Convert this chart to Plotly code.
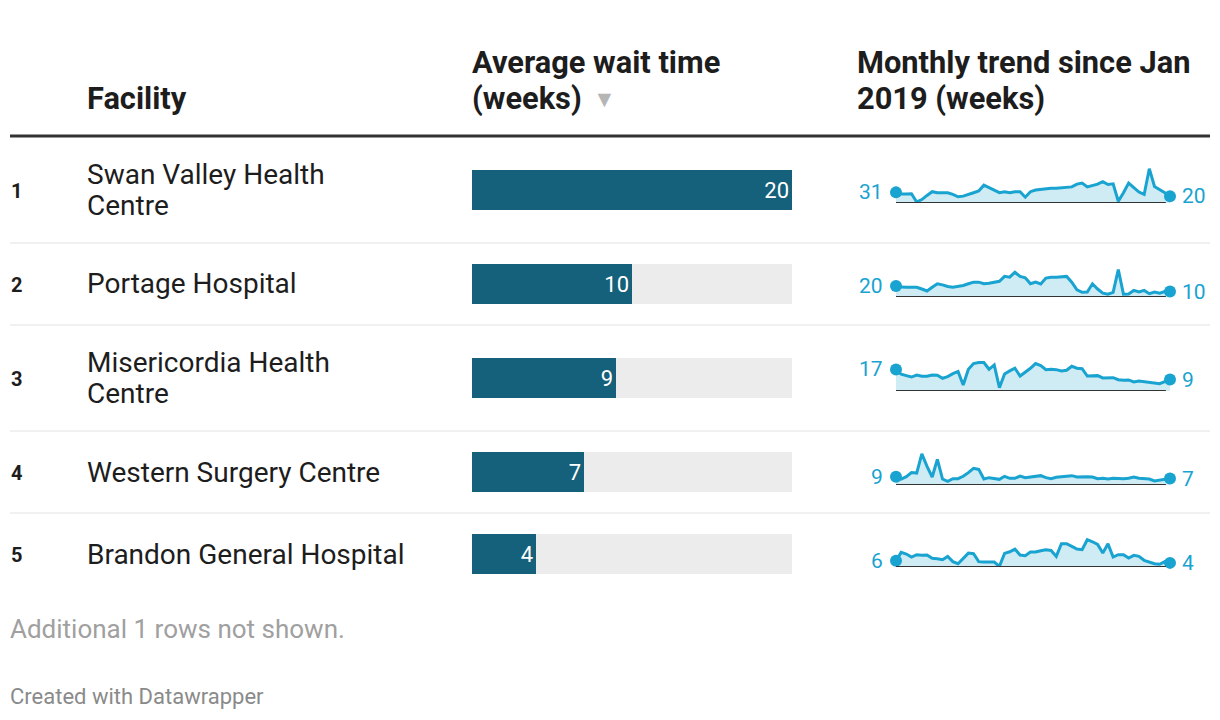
import plotly.graph_objects as go

PAGE_W, PAGE_H = 1220, 720
OFF = 8  # browser default body margin
W, H = PAGE_W - OFF, PAGE_H - OFF

# ---------------- data ----------------
ranks = [1, 2, 3, 4, 5]
facilities = ["Swan Valley Health Centre", "Portage Hospital", "Misericordia Health Centre",
              "Western Surgery Centre", "Brandon General Hospital"]
facility_labels = ["Swan Valley Health<br>Centre", "Portage Hospital", "Misericordia Health<br>Centre",
                   "Western Surgery Centre", "Brandon General Hospital"]
avg_wait = [20, 10, 9, 7, 4]

trend_swan = [31, 26, 26, 27, 3, 10, 22, 33, 30, 30, 30, 25, 18, 20, 24, 30, 35, 52, 45, 37,
              30, 33, 30, 33, 33, 17, 33, 38, 40, 40, 43, 43, 44, 45, 47, 55, 58, 47, 50, 55,
              62, 54, 56, 5, 30, 58, 45, 32, 25, 100, 48, 40, 30, 20]
trend_portage = [20, 18, 17.6, 17.6, 17.6, 14.5, 11, 17.6, 24, 22, 19, 17.6, 19, 21, 24, 27, 27, 24,
                 25, 27, 28.5, 37.5, 36, 45, 37.5, 35, 24, 27, 23.6, 34.5, 36, 36, 37, 37.5, 27, 13,
                 8.5, 9, 24, 14.5, 7, 5, 8.5, 50, 5, 5.5, 12, 9, 12, 6, 9, 7, 10, 10]
trend_miser = [17, 13.2, 12.1, 11, 12.6, 11.6, 11.6, 12.6, 12.4, 10, 11.3, 13.7, 15.3, 4.7, 17.1,
               21.6, 22.4, 22.4, 17.1, 20.5, 2.6, 13.4, 15.8, 17.9, 11.8, 14.5, 17.9, 21.6, 20,
               16.8, 17.1, 16.8, 15.8, 16.3, 19.5, 17.9, 17.6, 11.8, 11.8, 12.1, 10.3, 10.3, 10.5,
               8.9, 8.4, 8.7, 7.1, 7.9, 7.4, 7.1, 6.6, 5.8, 7.4, 9]
trend_western = [9, 6.5, 9.1, 13.5, 13, 34, 20.4, 8.7, 28, 6.5, 4, 6.9, 6.9, 9.5, 13.5, 18.2, 17,
                 6.5, 8, 6.9, 6.2, 9.5, 7.3, 7.3, 9.8, 8, 8.7, 9.5, 10.2, 8, 6.9, 8.4, 9.1, 9.5,
                 10.2, 8.7, 9.1, 9.1, 8.7, 6.9, 7.3, 6.5, 7.3, 6.9, 6.9, 7.3, 8.7, 7.3, 7.3, 6.5,
                 4.4, 5.1, 5.5, 7]
trend_brandon = [6, 14.2, 12.6, 9.7, 11.9, 11.3, 11.6, 8.4, 8.1, 7.1, 10.3, 5.2, 3.2, 8.7, 13.5,
                 12.9, 5.2, 4.8, 4.8, 4.8, 0.6, 13.2, 14.8, 17.4, 11.6, 11, 14.5, 14.5, 15.8, 16.8,
                 16.1, 10.3, 22.6, 22.6, 20, 17.4, 16.8, 26.5, 24.5, 21.9, 13.5, 22.6, 9.7, 11.9,
                 11.9, 8.7, 11.3, 10.3, 6.5, 4.5, 3.2, 2.6, 5.2, 4]
trends = [trend_swan, trend_portage, trend_miser, trend_western, trend_brandon]
start_labels = ["31", "20", "17", "9", "6"]
end_labels = ["20", "10", "9", "7", "4"]
bar_max = 20

# ---------------- layout positions / styles (page px) ----------------
row_center = [190, 284, 378, 472, 554]
spark_base = [203, 297, 391, 485, 567]
spark_px_per_week = [0.343, 0.55, 1.27, 0.917, 1.03]
SPARK_H = 44
LINE_GAP = 31
BAR_COLOR = "#15607a"
BG_BAR = "#ececec"
SPARK_LINE = "#19a3d0"
SPARK_FILL = "#cfebf4"
TEXT = "#1d1d1d"
FONT = "Roboto"
HEAD_SIZE = 30.8


def X(px):
    return (px - OFF) / W


def Y(px):
    return 1 - (px - OFF) / H


fig = go.Figure()

bar_y = [c - OFF for c in row_center]  # y axis in figure px (top = 0)
fig.add_trace(go.Bar(x=[bar_max] * len(avg_wait), y=bar_y, orientation="h", width=40,
                     marker=dict(color=BG_BAR, line=dict(width=0)), hoverinfo="skip",
                     xaxis="x", yaxis="y", showlegend=False))
fig.add_trace(go.Bar(x=avg_wait, y=bar_y, orientation="h", width=40,
                     marker=dict(color=BAR_COLOR, line=dict(width=0)),
                     text=[str(v) for v in avg_wait], textposition="inside",
                     insidetextanchor="end", textangle=0,
                     textfont=dict(color="white", size=22, family=FONT),
                     xaxis="x", yaxis="y", showlegend=False))

layout_axes = {}
layout_axes["xaxis"] = dict(domain=[X(472), X(792)], range=[0, bar_max], visible=False, fixedrange=True)
layout_axes["yaxis"] = dict(domain=[0, 1], range=[H, 0], visible=False, fixedrange=True, anchor="x")

shapes = []
annotations = []


def text(x, y, s, size, color=TEXT, bold=False, xanchor="left", ref=("paper", "paper"), conv=True):
    annotations.append(dict(x=X(x) if conv else x, y=Y(y) if conv else y, xref=ref[0], yref=ref[1],
                            text=f"<b>{s}</b>" if bold else s,
                            showarrow=False, xanchor=xanchor, yanchor="middle", align="left",
                            font=dict(size=size, color=color, family=FONT)))


for i, vals in enumerate(trends):
    k = i + 2
    xa, ya = f"x{k}", f"y{k}"
    n = len(vals)
    idx = list(range(n))
    ymax = SPARK_H / spark_px_per_week[i]
    layout_axes[f"xaxis{k}"] = dict(domain=[X(896), X(1170)], range=[0, n - 1], visible=False,
                                    fixedrange=True, anchor=ya)
    layout_axes[f"yaxis{k}"] = dict(domain=[Y(spark_base[i]), Y(spark_base[i] - SPARK_H)],
                                    range=[0, ymax], visible=False, fixedrange=True, anchor=xa)
    fig.add_trace(go.Scatter(x=idx, y=vals, mode="lines", fill="tozeroy", fillcolor=SPARK_FILL,
                             line=dict(color=SPARK_LINE, width=3), xaxis=xa, yaxis=ya,
                             showlegend=False, hoverinfo="skip", cliponaxis=False))
    shapes.append(dict(type="line", xref=xa, yref=ya, x0=0, x1=(n - 1) * 0.985, y0=0, y1=0,
                       line=dict(color="#333333", width=2)))
    fig.add_trace(go.Scatter(x=[0, n - 1], y=[vals[0], vals[-1]], mode="markers",
                             marker=dict(color=SPARK_LINE, size=12),
                             xaxis=xa, yaxis=ya, showlegend=False, hoverinfo="skip",
                             cliponaxis=False))
    annotations.append(dict(x=0, y=vals[0], xref=xa, yref=ya, text=start_labels[i], showarrow=False,
                            xanchor="right", yanchor="middle", xshift=-11,
                            font=dict(size=21, color=SPARK_LINE, family=FONT)))
    annotations.append(dict(x=n - 1, y=vals[-1], xref=xa, yref=ya, text=end_labels[i], showarrow=False,
                            xanchor="left", yanchor="middle", xshift=10,
                            font=dict(size=21, color=SPARK_LINE, family=FONT)))

shapes.append(dict(type="line", xref="paper", yref="paper", x0=X(10), x1=X(1210), y0=Y(136), y1=Y(136),
                   line=dict(color="#333333", width=3)))
for sep in [243, 325, 431, 513]:
    shapes.append(dict(type="line", xref="paper", yref="paper", x0=X(10), x1=X(1210), y0=Y(sep), y1=Y(sep),
                       line=dict(color="#e2e2e2", width=1)))

# headers
text(85, 98, "Facility", HEAD_SIZE, bold=True)
text(470, 62, "Average wait time", HEAD_SIZE, bold=True)
text(470, 98, "(weeks)", HEAD_SIZE, bold=True)
text(591, 100, "▼", 23, color="#b5b5b5")
text(855, 62, "Monthly trend since Jan", HEAD_SIZE, bold=True)
text(855, 98, "2019 (weeks)", HEAD_SIZE, bold=True)

for i in range(len(ranks)):
    text(9, row_center[i] + 1, str(ranks[i]), 20, bold=True)
    lines = facility_labels[i].split("<br>")
    top = row_center[i] - LINE_GAP * (len(lines) - 1) / 2
    for j, ln in enumerate(lines):
        text(85, top + j * LINE_GAP, ln, 28)

text(8, 629, "Additional 1 rows not shown.", 26, color="#a0a0a0")
text(8, 696, "Created with Datawrapper", 22, color="#8a8a8a")

fig.update_layout(width=W, height=H, margin=dict(l=0, r=0, t=0, b=0), paper_bgcolor="white",
                  plot_bgcolor="rgba(0,0,0,0)", barmode="overlay", shapes=shapes, annotations=annotations,
                  font=dict(family=FONT), **layout_axes)

fig.write_html("out.html")
